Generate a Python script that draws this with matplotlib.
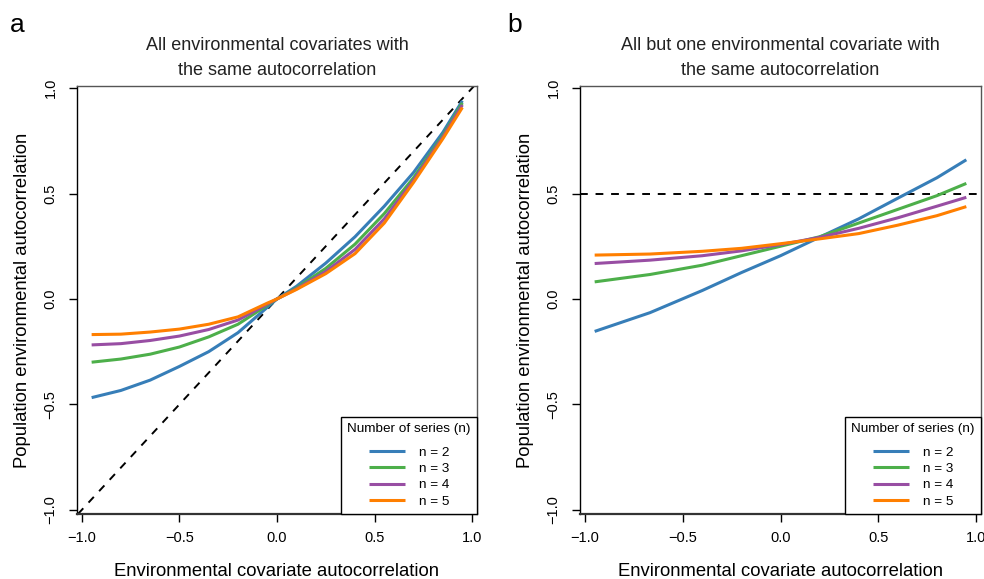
import matplotlib
matplotlib.use("Agg")
import matplotlib.pyplot as plt

plt.rcParams['font.family'] = ['Liberation Sans', 'DejaVu Sans']

# Panel a data
xa = [-0.95, -0.8, -0.65, -0.5, -0.35, -0.2, -0.05, 0.0, 0.1, 0.25, 0.4, 0.55, 0.7, 0.85, 0.95]
a_n2 = [-0.468, -0.434, -0.385, -0.32, -0.25, -0.16, -0.04, 0.0, 0.06, 0.17, 0.295, 0.44, 0.60, 0.79, 0.94]
a_n3 = [-0.300, -0.285, -0.262, -0.228, -0.18, -0.12, -0.03, 0.0, 0.052, 0.145, 0.26, 0.405, 0.575, 0.775, 0.93]
a_n4 = [-0.218, -0.212, -0.197, -0.176, -0.145, -0.10, -0.025, 0.0, 0.048, 0.13, 0.235, 0.38, 0.563, 0.768, 0.92]
a_n5 = [-0.169, -0.167, -0.157, -0.143, -0.12, -0.085, -0.02, 0.0, 0.045, 0.12, 0.215, 0.36, 0.553, 0.76, 0.908]

# Panel b data
xb = [-0.95, -0.667, -0.4, -0.2, 0.0, 0.2, 0.4, 0.6, 0.8, 0.95]
b_n2 = [-0.154, -0.065, 0.04, 0.125, 0.205, 0.293, 0.38, 0.478, 0.575, 0.66]
b_n3 = [0.081, 0.116, 0.16, 0.205, 0.25, 0.295, 0.36, 0.425, 0.49, 0.548]
b_n4 = [0.168, 0.184, 0.205, 0.228, 0.258, 0.292, 0.335, 0.385, 0.44, 0.482]
b_n5 = [0.208, 0.213, 0.226, 0.24, 0.262, 0.285, 0.31, 0.35, 0.395, 0.438]

labels = ["n = 2", "n = 3", "n = 4", "n = 5"]
colors = ["#377EB8", "#4DAF4A", "#984EA3", "#FF7F00"]
ticks = [-1.0, -0.5, 0.0, 0.5, 1.0]
tick_labels = ["\u22121.0", "\u22120.5", "0.0", "0.5", "1.0"]

titles = ["All environmental covariates with\nthe same autocorrelation",
          "All but one environmental covariate with\nthe same autocorrelation"]
letters = ["a", "b"]

fig = plt.figure(figsize=(9.84, 5.79), dpi=100)
ax_a = fig.add_axes([77/984, 1-514/579, 400/984, 428/579])
ax_b = fig.add_axes([580/984, 1-514/579, 401/984, 428/579])

for i, (ax, x, series) in enumerate([(ax_a, xa, [a_n2, a_n3, a_n4, a_n5]),
                                      (ax_b, xb, [b_n2, b_n3, b_n4, b_n5])]):
    if i == 0:
        ax.axline((0, 0), slope=1, color="black", lw=1.4, dashes=(4, 4))
    else:
        ax.axhline(0.5, color="black", lw=1.4, dashes=(4, 4))
    for y, c, lab in zip(series, colors, labels):
        ax.plot(x, y, color=c, lw=2.2, label=lab, solid_capstyle="butt")
    ax.set_xlim(-1.025, 1.025)
    ax.set_ylim(-1.02, 1.01)
    ax.set_xticks(ticks)
    ax.set_xticklabels(tick_labels)
    ax.set_yticks(ticks)
    ax.set_yticklabels(tick_labels, rotation=90, va="center")
    ax.tick_params(direction="out", length=6, width=1, labelsize=10.5, colors="black", pad=6)
    ax.tick_params(axis="y", pad=8)
    ax.spines["left"].set_color("black")
    ax.spines["left"].set_linewidth(1.0)
    ax.spines["bottom"].set_color("#333333")
    ax.spines["bottom"].set_linewidth(1.6)
    ax.spines["top"].set_color("#555555")
    ax.spines["top"].set_linewidth(1.0)
    ax.spines["right"].set_color("#555555")
    ax.spines["right"].set_linewidth(1.0)
    ax.set_xlabel("Environmental covariate autocorrelation", fontsize=13.3, labelpad=13)
    ax.set_ylabel("Population environmental autocorrelation", fontsize=13.3, labelpad=9)
    ax.set_title(titles[i], fontsize=13, pad=8, linespacing=1.6, color="#222222")
    leg = ax.legend(title="Number of series (n)", loc="lower right", fontsize=9.7,
                    title_fontsize=9.7, frameon=True, fancybox=False, borderaxespad=0,
                    handlelength=2.7, handletextpad=1.0, labelspacing=0.3,
                    borderpad=0.45, framealpha=1)
    leg.get_frame().set_edgecolor("black")
    leg.get_frame().set_linewidth(1.0)
    leg._legend_box.sep = 8
    fig.text((10 if i == 0 else 507)/984, 1-25/579, letters[i], fontsize=19, va="center", ha="left")

fig.savefig("out.png", dpi=100)
